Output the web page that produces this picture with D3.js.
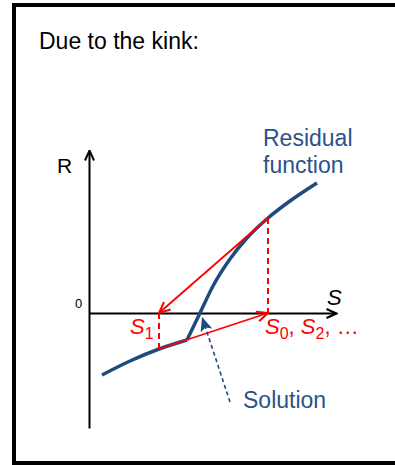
<!DOCTYPE html>
<html>
<head>
<meta charset="utf-8">
<script src="https://cdn.jsdelivr.net/npm/d3@7"></script>
<style>
  html, body { margin: 0; padding: 0; background: #fff; }
  svg { display: block; font-family: "Liberation Sans", Arial, sans-serif; }
</style>
</head>
<body>
<svg id="chart" width="395" height="465"></svg>
<script>
// Residual function R(S): two branches meeting at a kink
const lowerBranch = [
  [0.52, -2.48], [1.64, -1.92], [2.8, -1.44], [3.92, -1.08]
];
const upperBranch = [
  [3.92, -1.08], [4.44, 0], [4.96, 1.08], [5.64, 2.16], [6.32, 3.0],
  [7.16, 3.8], [8.04, 4.48], [9.12, 5.2]
];
// Newton iterates
const iterS = [7.16, 2.8];       // S0, S1
const iterR = [3.8, -1.44];      // R(S0), R(S1)
const solution = [4.44, 0];
const axisLabels = { x: "S", y: "R", zero: "0" };
const title = "Due to the kink:";
const curveLabel = ["Residual", "function"];
const solutionLabel = "Solution";

const BLUE = "#1f4a7e";
const BLUE_TEXT = "#2b5289";
const RED = "#ff0000";

const svg = d3.select("#chart");

// Frame
svg.append("rect")
  .attr("x", 14).attr("y", 5).attr("width", 400).attr("height", 458)
  .attr("fill", "none").attr("stroke", "#000").attr("stroke-width", 4);

svg.append("text")
  .attr("x", 39).attr("y", 49)
  .attr("font-size", 23).attr("fill", "#000")
  .text(title);

// Scales: 25 px per unit on both axes
const x = d3.scaleLinear().domain([0, 9.88]).range([89, 336]);
const y = d3.scaleLinear().domain([-4.6, 6.52]).range([428, 150]);

const defs = svg.append("defs");
function openArrow(id, color, len, half, sw) {
  defs.append("marker")
    .attr("id", id)
    .attr("markerUnits", "userSpaceOnUse")
    .attr("viewBox", `-1 -1 ${len + 2} ${half * 2 + 2}`)
    .attr("markerWidth", len + 2).attr("markerHeight", half * 2 + 2)
    .attr("refX", len).attr("refY", half)
    .attr("orient", "auto")
    .append("path")
    .attr("d", `M0,0 L${len},${half} L0,${half * 2}`)
    .attr("fill", "none").attr("stroke", color).attr("stroke-width", sw)
    .attr("stroke-linejoin", "miter");
}
openArrow("arrBlack", "#000", 10, 4.5, 2);
openArrow("arrRed", RED, 11, 5, 2);
defs.append("marker")
  .attr("id", "arrBlue")
  .attr("markerUnits", "userSpaceOnUse")
  .attr("viewBox", "0 0 14 12")
  .attr("markerWidth", 14).attr("markerHeight", 12)
  .attr("refX", 14).attr("refY", 6)
  .attr("orient", "auto")
  .append("path")
  .attr("d", "M0,0 L14,6 L0,12 L3,6 Z")
  .attr("fill", BLUE);

// Axes (no ticks), with arrowheads at the far ends
const gx = svg.append("g")
  .attr("transform", `translate(0,${Math.round(y(0))})`)
  .call(d3.axisBottom(x).tickValues([]).tickSizeOuter(0));
gx.select(".domain").attr("stroke", "#000").attr("stroke-width", 2)
  .attr("marker-end", "url(#arrBlack)");

const gy = svg.append("g")
  .attr("transform", `translate(${Math.round(x(0))},0)`)
  .call(d3.axisLeft(y).tickValues([]).tickSizeOuter(0));
gy.select(".domain").attr("stroke", "#000").attr("stroke-width", 2)
  .attr("marker-end", "url(#arrBlack)");

svg.append("text")
  .attr("x", 57).attr("y", 173)
  .attr("font-size", 21).attr("fill", "#000")
  .text(axisLabels.y);
svg.append("text")
  .attr("x", 75).attr("y", 308)
  .attr("font-size", 13).attr("fill", "#000")
  .text(axisLabels.zero);
svg.append("text")
  .attr("x", 327).attr("y", 305)
  .attr("font-size", 22).attr("font-style", "italic").attr("fill", "#000")
  .text(axisLabels.x);

// Residual curve
const line = d3.line().x(d => x(d[0])).y(d => y(d[1])).curve(d3.curveMonotoneX);
[lowerBranch, upperBranch].forEach(b => {
  svg.append("path")
    .attr("d", line(b))
    .attr("fill", "none").attr("stroke", BLUE)
    .attr("stroke-width", 3.5).attr("stroke-linecap", "butt")
    .attr("stroke-linejoin", "round");
});

// Newton steps
const dashed = svg.append("g")
  .attr("stroke", RED).attr("stroke-width", 2).attr("stroke-dasharray", "6,4");
dashed.append("line")
  .attr("x1", x(iterS[0])).attr("y1", y(iterR[0]))
  .attr("x2", x(iterS[0])).attr("y2", y(0));
dashed.append("line")
  .attr("x1", x(iterS[1])).attr("y1", y(0))
  .attr("x2", x(iterS[1])).attr("y2", y(iterR[1]));

svg.append("line")
  .attr("x1", x(iterS[0])).attr("y1", y(iterR[0]))
  .attr("x2", x(iterS[1])).attr("y2", y(0))
  .attr("stroke", RED).attr("stroke-width", 1.8)
  .attr("marker-end", "url(#arrRed)");
svg.append("line")
  .attr("x1", x(iterS[1])).attr("y1", y(iterR[1]))
  .attr("x2", x(iterS[0])).attr("y2", y(0))
  .attr("stroke", RED).attr("stroke-width", 1.8)
  .attr("marker-end", "url(#arrRed)");

// Iterate labels
function subLabel(px, py, parts) {
  const t = svg.append("text").attr("x", px).attr("y", py)
    .attr("fill", RED).attr("font-size", 22);
  parts.forEach(p => {
    const ts = t.append("tspan").text(p.t);
    if (p.italic) ts.attr("font-style", "italic");
    if (p.sub) ts.attr("font-size", 16).attr("dy", 5);
    if (p.up) ts.attr("dy", -5);
  });
}
subLabel(130, 334, [{ t: "S", italic: true }, { t: "1", sub: true }]);
subLabel(265, 334, [
  { t: "S", italic: true }, { t: "0", sub: true }, { t: ", ", up: true },
  { t: "S", italic: true }, { t: "2", sub: true }, { t: ", \u2026", up: true }
]);

// Curve label
const rl = svg.append("text").attr("fill", BLUE_TEXT).attr("font-size", 23);
rl.append("tspan").attr("x", 263).attr("y", 146).text(curveLabel[0]);
rl.append("tspan").attr("x", 263).attr("y", 173).text(curveLabel[1]);

// Pointer to the solution
svg.append("line")
  .attr("x1", 230).attr("y1", 402)
  .attr("x2", x(solution[0]) + 2).attr("y2", y(solution[1]) + 4)
  .attr("stroke", BLUE).attr("stroke-width", 1.6).attr("stroke-dasharray", "4,3")
  .attr("marker-end", "url(#arrBlue)");
svg.append("text")
  .attr("x", 243).attr("y", 408)
  .attr("fill", BLUE_TEXT).attr("font-size", 23)
  .text(solutionLabel);
</script>
</body>
</html>
